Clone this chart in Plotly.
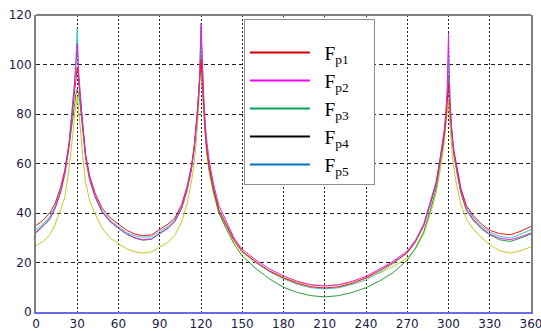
import plotly.graph_objects as go

# Rotor angle (degrees) at which the five force components are sampled
angle = [0, 5, 10, 14, 18, 21, 24, 26, 27, 28,
         29, 30, 31, 32, 33, 34, 36, 39, 43, 48,
         54, 60, 66, 72, 78, 84, 90, 96, 101, 106,
         110, 113, 115, 116, 117, 118, 119, 120, 121, 122,
         123, 124, 126, 129, 133, 138, 144, 150, 160, 170,
         180, 190, 200, 210, 220, 230, 240, 250, 260, 270,
         276, 282, 287, 291, 294, 296, 297, 298, 299, 300,
         301, 302, 303, 304, 306, 309, 313, 318, 324, 330,
         337, 345, 352, 360]

fp1 = [35, 37, 40, 44, 50.5, 57.5, 68, 78, 84, 89,
       94, 99, 93, 87, 81, 76, 64, 55, 48, 42,
       38, 35.5, 33, 31.5, 30.8, 31.2, 33.5, 35.5, 38, 43.5,
       51, 59, 67, 72, 79, 86, 93, 102, 94, 83,
       74, 67, 58.5, 50, 41, 35.5, 29, 24.5, 20.2, 16.5,
       13.8, 11.6, 10.2, 9.7, 10.2, 11.6, 13.8, 16.8, 20, 24,
       28.5, 35, 44, 52, 62, 68, 72, 77, 84, 92,
       82, 75, 69, 65, 59, 50, 43, 39, 35.5, 33,
       31.7, 31.2, 32.5, 34.6]

fp2 = [32, 34.5, 37.5, 42, 48.5, 56, 67, 78, 85, 92,
       100, 108.7, 96, 88, 81, 75, 63, 53.5, 46.5, 40.5,
       36.5, 33.8, 31.5, 30, 29.2, 29.6, 31.8, 34, 36.8, 42,
       49.5, 57.5, 66, 71, 78, 86, 95, 116.7, 98, 87,
       77, 70, 61, 52, 43, 37, 30, 25.3, 21, 17.3,
       14.6, 12.4, 11, 10.5, 11, 12.4, 14.4, 17.4, 20.6, 24.6,
       29, 35.5, 44.5, 52.5, 62.5, 69, 74, 80, 90, 112.7,
       86, 76, 69, 64, 57.5, 48.5, 41.5, 37.5, 34, 31.5,
       29.8, 29.2, 30.3, 31.9]

fp3 = [33.2, 35.5, 38.5, 42.8, 49.5, 57, 68, 79, 86, 93,
       102, 114.5, 98, 89, 82, 76, 63.5, 54, 47, 41,
       37, 34.5, 32, 30.8, 30.2, 30.5, 32.5, 34.6, 37.3, 42.7,
       50, 58, 66, 71.5, 78.5, 86, 96, 114.7, 97, 85,
       75, 68, 59, 50.5, 41.5, 35.8, 29.2, 24.5, 20, 16.2,
       13.4, 11.2, 9.8, 9.3, 9.8, 11.1, 13, 16.2, 19.6, 23.8,
       28.3, 34.8, 43.5, 51.5, 61.5, 68, 73, 79, 87, 102,
       84, 75.5, 69, 64.5, 58.5, 49.5, 42.5, 38.3, 34.7, 32.3,
       30.6, 29.9, 31.3, 33.3]

fp4 = [32.3, 34.8, 37.8, 42.2, 48.8, 56, 66.5, 76, 81, 85,
       88, 90, 88, 84, 79, 74, 62.5, 53.5, 46.5, 40.5,
       36.5, 33.8, 31.5, 29.8, 29, 29.4, 31.5, 33.8, 36.5, 42,
       49.5, 57.5, 65.5, 70.5, 77, 84, 92, 104, 93, 82,
       73, 66, 57.5, 49, 40, 34, 27.5, 22.6, 17.5, 13.3,
       10, 7.9, 6.6, 6.1, 6.6, 7.9, 9.8, 12.6, 16, 21,
       25.8, 32.5, 41.5, 50, 60, 67, 72, 78, 86, 95,
       83, 74, 67.5, 63, 56.5, 48, 41, 37, 33.5, 31.2,
       29.2, 28.5, 29.8, 31.5]

fp5 = [26.8, 28.5, 31, 35.5, 41.5, 46.5, 58, 67, 73, 79,
       84, 87, 82, 75, 68, 63, 52.5, 45, 39.5, 34,
       29.8, 27.5, 25.5, 24.3, 23.8, 24.3, 26.3, 28.2, 31, 36.5,
       44, 52.5, 60, 65, 72, 80, 88, 100, 88, 79,
       71, 64.5, 56, 48, 40, 34.5, 28.5, 24, 19.8, 16.5,
       14, 12, 11, 10.7, 11, 11.9, 13.6, 15.8, 18.4, 21.8,
       25.5, 31.5, 40, 48, 57.5, 64, 69, 75, 81, 86,
       76, 68, 62, 57.5, 51, 43.5, 37.5, 33.5, 30, 27.2,
       24.8, 23.8, 24.7, 26.3]

names = ["F<sub>p1</sub>", "F<sub>p2</sub>", "F<sub>p3</sub>",
         "F<sub>p4</sub>", "F<sub>p5</sub>"]
series = [fp1, fp2, fp3, fp4, fp5]
curve_colors = ["#ff1010", "#e020e0", "#30c8c8", "#2e9a3a", "#c8c820"]
legend_colors = ["#cc0000", "#ff00ff", "#00a650", "#000000", "#0070c0"]

NB = "\u00a0"

fig = go.Figure()

# draw order: yellow, green, cyan, red, magenta (magenta ends up on top)
for i in [4, 3, 2, 0, 1]:
    fig.add_trace(go.Scatter(
        x=angle, y=series[i], mode="lines", name=names[i],
        line=dict(color=curve_colors[i], width=1),
        showlegend=False, hoverinfo="skip"))

# legend entries (padded with non-breaking spaces for wider spacing)
for i in range(5):
    fig.add_trace(go.Scatter(
        x=[None], y=[None], mode="lines",
        name=NB * 2 + names[i] + NB * 4,
        line=dict(color=legend_colors[i], width=2)))

tick_font = dict(family="DejaVu Sans", size=12, color="#1a1a44")

fig.update_layout(
    width=541, height=331,
    margin=dict(l=36, r=10, t=15, b=19),
    paper_bgcolor="white", plot_bgcolor="white",
    showlegend=True,
    legend=dict(
        x=0.42, y=0.985, xanchor="left", yanchor="top",
        bgcolor="white", bordercolor="#909090", borderwidth=1,
        font=dict(family="Liberation Serif, Times New Roman", size=19.25, color="black"),
        itemwidth=60, tracegroupgap=0,
        title=dict(text=NB, font=dict(size=10)),
    ),
    shapes=[dict(type="line", xref="paper", yref="paper", x0=0, x1=1, y0=1, y1=1,
                 line=dict(color="#808080", width=2))],
)

fig.update_xaxes(
    range=[0, 360], tickmode="array",
    tickvals=list(range(0, 361, 30)),
    showgrid=True, gridcolor="#202020", gridwidth=1, griddash="2px,2px",
    showline=True, linecolor="#6a6aee", linewidth=2, mirror=False,
    zeroline=False, ticks="", tickfont=tick_font,
    automargin=False, ticklabeloverflow="allow",
)
fig.update_yaxes(
    range=[0, 120], tickmode="array",
    tickvals=list(range(0, 121, 20)),
    showgrid=True, gridcolor="#202020", gridwidth=1, griddash="4px,3px",
    showline=True, linecolor="#808080", linewidth=2, mirror=True,
    zeroline=False, ticks="", tickfont=tick_font,
    automargin=False, ticklabeloverflow="allow",
)

fig.write_html("out.html")
